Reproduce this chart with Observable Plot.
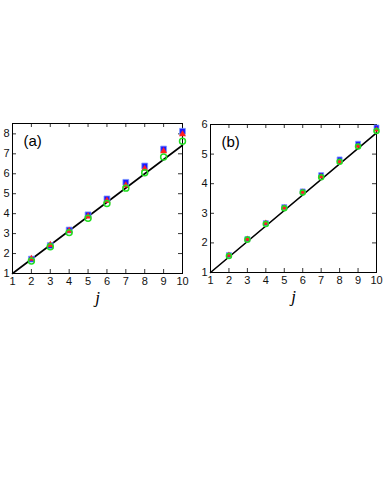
<!DOCTYPE html>
<html><head><meta charset="utf-8">
<script src="https://cdn.jsdelivr.net/npm/d3@7"></script>
<script src="https://cdn.jsdelivr.net/npm/@observablehq/plot@0.6"></script>
<style>
body{margin:0;background:#fff;width:383px;height:495px;position:relative;overflow:hidden;font-family:"Liberation Sans",Arial,sans-serif}
.p{position:absolute}
</style></head><body>
<div id="a" class="p" style="left:0;top:113px"></div>
<div id="b" class="p" style="left:190px;top:114px"></div>
<script>
const j = [2,3,4,5,6,7,8,9,10];
const aBlue  = [1.72,2.40,3.18,3.94,4.74,5.57,6.39,7.24,8.13];
const aRed   = [1.74,2.43,3.14,3.86,4.65,5.42,6.25,7.13,7.98];
const aGreen = [1.63,2.34,3.05,3.77,4.51,5.28,6.05,6.84,7.63];
const aLineX = [1,10], aLineY = [1,7.43];
const bBlue  = [1.59,2.13,2.67,3.21,3.74,4.29,4.82,5.35,5.90];
const bRed   = [1.59,2.13,2.67,3.19,3.72,4.24,4.74,5.27,5.82];
const bGreen = [1.56,2.11,2.64,3.17,3.70,4.22,4.74,5.26,5.78];
const bLineX = [1,10], bLineY = [1,5.72];
const xTicks = [1,2,3,4,5,6,7,8,9,10];
const aYTicks = [1,2,3,4,5,6,7,8];
const bYTicks = [1,2,3,4,5,6];

function panel(el, opts){
  const {width,height,mL,mR,mT,mB,yDom,yTicks,blue,red,green,lx,ly,label,r} = opts;
  const ph = height-mT-mB, pw = width-mL-mR;
  const pts = (arr)=>j.map((v,i)=>({j:v,y:arr[i]}));
  const line = lx.map((v,i)=>({x:v,y:ly[i]}));
  const chart = Plot.plot({
    width, height, marginLeft:mL, marginRight:mR, marginTop:mT, marginBottom:mB,
    style:{fontFamily:"Liberation Sans, Arial, sans-serif", fontSize:"11px", overflow:"visible", background:"transparent"},
    x:{domain:[1,10], axis:null},
    y:{domain:yDom, axis:null},
    marks:[
      Plot.tickX(xTicks,{x:d=>d, insetTop:ph-4, stroke:"#000", strokeWidth:0.8}),
      Plot.tickX(xTicks,{x:d=>d, insetBottom:ph-4, stroke:"#000", strokeWidth:0.8}),
      Plot.tickY(yTicks,{y:d=>d, insetRight:pw-4, stroke:"#000", strokeWidth:0.8}),
      Plot.tickY(yTicks,{y:d=>d, insetLeft:pw-4, stroke:"#000", strokeWidth:0.8}),
      Plot.axisX(xTicks,{tickSize:0, tickPadding:4, fill:"#111", fontSize:11, label:null}),
      Plot.axisY(yTicks,{tickSize:0, tickPadding:3, fill:"#111", fontSize:11, label:null}),
      Plot.frame({stroke:"#000", strokeWidth:1}),
      Plot.line(line,{x:"x",y:"y",stroke:"#000",strokeWidth:1.6}),
      Plot.dot(pts(blue),{x:"j",y:"y",symbol:"square",fill:"#1a1aff",stroke:"#7f9cff",strokeWidth:0.8,r:r}),
      Plot.dot(pts(red),{x:"j",y:"y",symbol:"triangle",fill:"#ff2020",r:r*0.8}),
      Plot.dot(pts(green),{x:"j",y:"y",symbol:"circle",fill:"none",stroke:"#22dd22",strokeWidth:1.5,r:r*0.9}),
      Plot.text([label],{frameAnchor:"top-left", dx:11, dy:12, text:d=>d, fontSize:15, fill:"#000", textAnchor:"start"}),
      Plot.text(["j"],{frameAnchor:"bottom", dy:mB-11, text:d=>d, fontSize:17, fontStyle:"italic", fontFamily:"Liberation Serif, Times New Roman, serif", fill:"#000"})
    ]
  });
  document.getElementById(el).appendChild(chart);
}
panel("a",{width:195,height:200,mL:12,mR:13,mT:10,mB:40,yDom:[1,8.52],yTicks:aYTicks,blue:aBlue,red:aRed,green:aGreen,lx:aLineX,ly:aLineY,label:"(a)",r:3.3});
panel("b",{width:193,height:198,mL:20,mR:7,mT:10,mB:40,yDom:[1,6],yTicks:bYTicks,blue:bBlue,red:bRed,green:bGreen,lx:bLineX,ly:bLineY,label:"(b)",r:2.8});
</script>
</body></html>
